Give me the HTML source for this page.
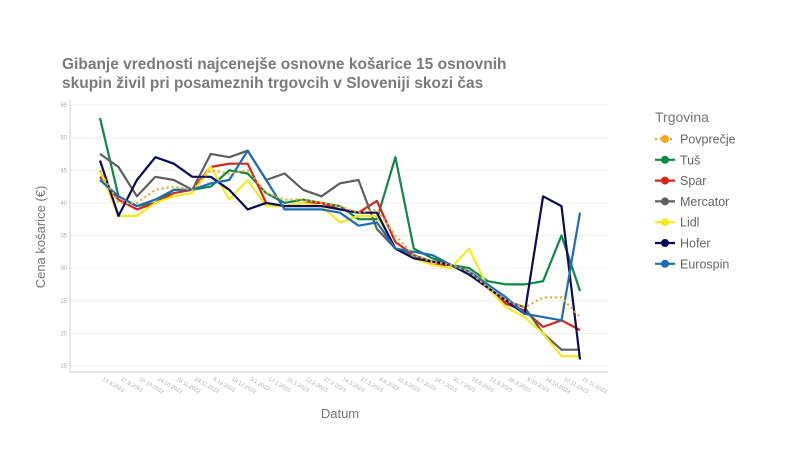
<!DOCTYPE html>
<html><head><meta charset="utf-8"><style>
body{margin:0;background:#fff;font-family:"Liberation Sans",sans-serif}
svg{display:block}
</style></head><body>
<svg id="chart" width="806" height="452" viewBox="0 0 806 452">
<text x="62" y="69" font-size="15.5" font-weight="bold" fill="#7a7a7a">Gibanje vrednosti najcenejše osnovne košarice 15 osnovnih</text>
<text x="62" y="88" font-size="15.5" font-weight="bold" fill="#7a7a7a"> skupin živil pri posameznih trgovcih v Sloveniji skozi čas</text>
<g id="grid"></g><g id="xlabels"></g><g id="series"></g><g id="legend"></g>
<text transform="translate(45,237) rotate(-90)" text-anchor="middle" font-size="13" fill="#777">Cena košarice (€)</text>
<text x="340" y="418" text-anchor="middle" font-size="13" fill="#777">Datum</text>
</svg>
<script>
const dates=["13.9.2022","27.9.2022","10.10.2022","24.10.2022","15.11.2022","24.11.2022","6.12.2022","19.12.2022","3.1.2023","17.1.2023","31.1.2023","13.2.2023","27.2.2023","14.3.2023","27.3.2023","8.6.2023","22.6.2023","4.7.2023","18.7.2023","31.7.2023","16.8.2023","12.9.2023","26.9.2023","9.10.2023","24.10.2023","10.11.2023","21.11.2023"];
const yTicks=[15,20,25,30,35,40,45,50,55];
const povprecje=[45,40,40,42,42.5,42,45,44.5,45,41.5,40.5,40.5,40,39.5,38.5,39,35,32,31,30.5,29.5,27,25,24,25.5,25.5,22.5];
const tus=[53,41,39.5,40,42,42,42.5,45,44.5,41.5,40,40.5,40,39.5,37.5,37.5,47,33,31.5,30.5,30,28,27.5,27.5,28,35,26.5];
const spar=[44,40.5,39,40,41.5,42,45.5,46,46,40,39.5,40,40,39,38.5,40.3,34,32,30.5,30.5,29.5,27,24.5,23.5,21,22,20.5];
const mercator=[47.5,45.5,41,44,43.5,42,47.5,47,48,43.5,44.5,42,41,43,43.5,36,33,32,31,30.5,29.5,27,25,24,20,17.5,17.5];
const lidl=[45,38,38,40,41,41.5,45.5,40.5,43.5,39.5,39.5,40,39.5,37,38,38,33,31.5,30.5,30,33,27,24,22.5,20,16.5,16.5];
const hofer=[46.5,38,43.5,47,46,44,44,42,39,40,39.5,39.5,39.5,39,38.5,38.5,33,31.5,31,30.5,29,27,25,23,41,39.5,16];
const eurospin=[43.5,41,39.5,40.5,42,42,43,43.5,48,43.5,39,39,39,38.5,36.5,37,33,32.5,32,30.5,29.5,27.5,25.5,23,22.5,22,38.5];
const names=["Povprečje","Tuš","Spar","Mercator","Lidl","Hofer","Eurospin"];
const colors=["#f5a623","#0a8a45","#d7261e","#5f5f5f","#f2ec1a","#0b0b5c","#1c6db3"];
const seriesData=[povprecje,tus,spar,mercator,lidl,hofer,eurospin];
const NS="http://www.w3.org/2000/svg";
const X0=100,X1=580,PL=70,PR=608,PB=372;
const xs=i=>X0+i*(X1-X0)/(dates.length-1);
const ys=v=>366-(v-15)*6.525;
function mk(t,a,p){const e=document.createElementNS(NS,t);for(const k in a)e.setAttribute(k,a[k]);p.appendChild(e);return e;}
const grid=document.getElementById('grid');
yTicks.forEach(v=>{
 const l=mk('line',{x1:PL,x2:PR,y1:ys(v),y2:ys(v),stroke:'#ececec','stroke-width':1},grid);
 
 
 const t=mk('text',{x:PL-3,y:ys(v)+2,'text-anchor':'end','font-size':6,fill:'#aaa'},grid);
 t.textContent=v;
 
 
});
const ax=mk('line',{x1:PL,x2:PL,y1:100,y2:PB,stroke:'#ccc'},grid);


const bx=mk('line',{x1:PL,x2:PR,y1:PB,y2:PB,stroke:'#ccc'},grid);


const xl=document.getElementById('xlabels');
dates.forEach((d,i)=>{
 const t=mk('text',{x:xs(i)+2,y:PB+8,'font-size':5.5,fill:'#aaa',transform:`rotate(30 ${xs(i)+2} ${PB+8})`},xl);
 t.textContent=d;
 
 
});
const sg=document.getElementById('series');
[1,2,3,4,5,6,0].forEach(k=>{
 const pts=seriesData[k].map((v,i)=>xs(i).toFixed(1)+','+ys(v).toFixed(1)).join(' ');
 const a={points:pts,fill:'none',stroke:colors[k],'stroke-width':2.2,'stroke-linejoin':'round'};
 if(k===0)a['stroke-dasharray']='2,3';
 const p=mk('polyline',a,sg);
 
 
});
const lg=document.getElementById('legend');
const lt=mk('text',{x:655,y:122,'font-size':14,fill:'#777'},lg);
lt.textContent='Trgovina';


names.forEach((n,k)=>{
 const y=139+k*20.8;
 const g=mk('g',{},lg);
 
 
 const a={x1:655,x2:675,y1:y,y2:y,stroke:colors[k],'stroke-width':2.2};
 if(k===0)a['stroke-dasharray']='2,3';
 mk('line',a,g);
 mk('circle',{cx:665,cy:y,r:4,fill:colors[k]},g);
 const t=mk('text',{x:680,y:y+4.5,'font-size':12.5,fill:'#666'},g);
 t.textContent=n;
});
</script>
</body></html>
